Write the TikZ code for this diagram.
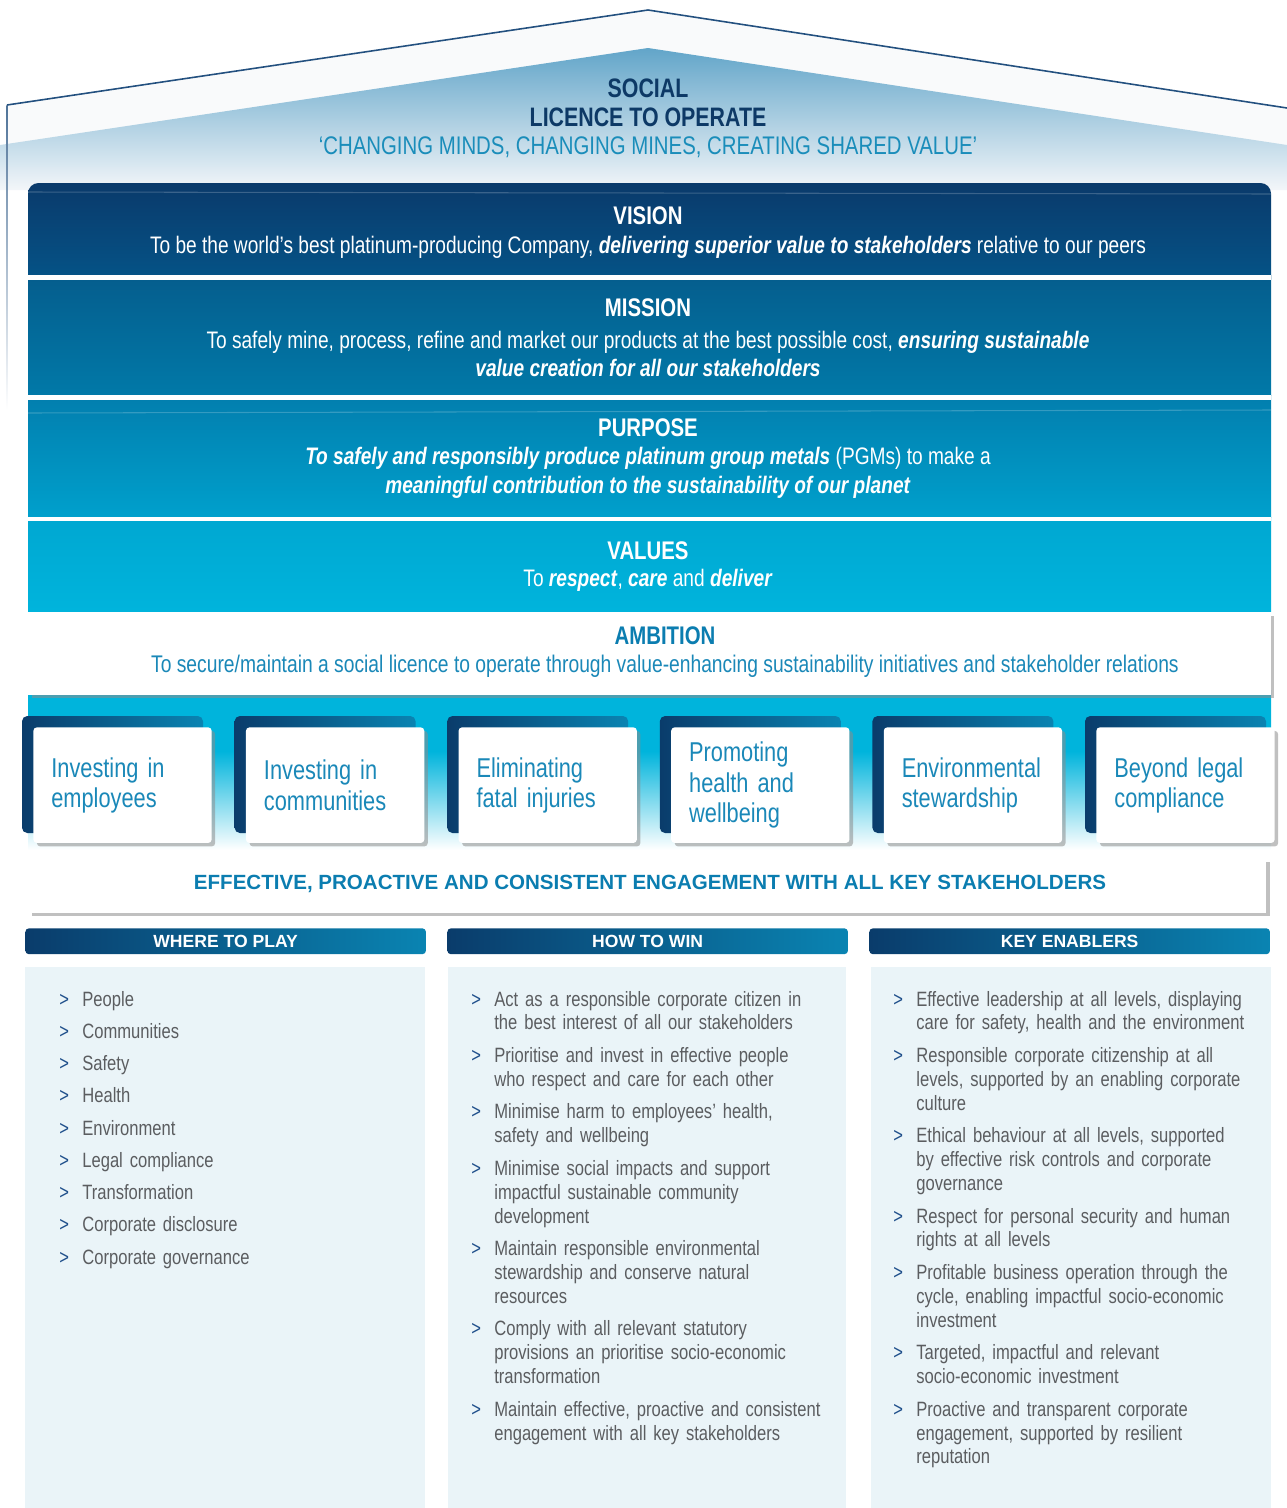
\documentclass[tikz,border=0pt]{standalone}
\usepackage{fontspec}
\setmainfont{Liberation Sans}[FakeStretch=0.8]
\newfontfamily\widefont{Liberation Sans}
\usetikzlibrary{positioning,shadows,calc}

\definecolor{roofline}{HTML}{23507F}
\definecolor{roofwhite}{HTML}{F9FAFB}
\definecolor{roofpale}{HTML}{F3F6F9}
\definecolor{roofblue}{HTML}{62A5C9}
\definecolor{roofnavy}{HTML}{0D3966}
\definecolor{roofteal}{HTML}{1A8DBA}
\definecolor{visiontop}{HTML}{0A3A6B}
\definecolor{visionbot}{HTML}{04568A}
\definecolor{missiontop}{HTML}{055D8D}
\definecolor{missionbot}{HTML}{0179A8}
\definecolor{purposetop}{HTML}{027EAE}
\definecolor{purposebot}{HTML}{00A0CC}
\definecolor{valuestop}{HTML}{00A7D1}
\definecolor{valuesbot}{HTML}{00B4DC}
\definecolor{pillarcyan}{HTML}{00B4DC}
\definecolor{tabnavy}{HTML}{0A3C6B}
\definecolor{tabteal}{HTML}{0A84B2}
\definecolor{cardtext}{HTML}{1A88B8}
\definecolor{ambblue}{HTML}{0B7DB0}
\definecolor{panelbg}{HTML}{EAF4F8}
\definecolor{listgray}{HTML}{5B5D60}
\definecolor{markerblue}{HTML}{1F4F8B}

\pgfdeclareverticalshading{pillarfade}{100bp}{color(0bp)=(white); color(28bp)=(white); color(57bp)=(pillarcyan); color(100bp)=(pillarcyan)}

\newcommand{\bul}{\makebox[0pt][r]{\textcolor{markerblue}{>}\hspace{7.5pt}}}
\newcommand{\bi}[1]{\textbf{\textit{#1}}}

\tikzset{
  roofhead/.style={text=roofnavy, font=\fontsize{15.2}{17}\selectfont\bfseries},
  rooftext/.style={text=roofteal, font=\fontsize{14.5}{17}\selectfont},
  bandtitle/.style={text=white, font=\fontsize{14.5}{16}\selectfont\bfseries},
  bandtext/.style={text=white, align=center, font=\fontsize{13.6}{16.4}\selectfont},
  whitebox/.style={fill=white, anchor=north west, inner sep=0pt,
    drop shadow={shadow xshift=2pt, shadow yshift=-2pt, fill=black!45, opacity=0.55}},
  ambhead/.style={text=ambblue, font=\fontsize{14.5}{16}\selectfont\bfseries},
  ambtext/.style={text=cardtext, font=\fontsize{13.7}{16}\selectfont},
  pillarback/.style={left color=tabnavy, right color=tabteal, rounded corners=3pt},
  pillarcard/.style={whitebox, rounded corners=2pt, minimum width=101.5pt, minimum height=65.8pt,
    text width=81pt, inner xsep=10.2pt, align=left, text=cardtext,
    font=\fontsize{15.5}{17.2}\selectfont},
  engtext/.style={text=ambblue, font=\widefont\bfseries\fontsize{11.7}{13}\selectfont},
  headbar/.style={anchor=north west, minimum width=228pt, minimum height=14.7pt, inner sep=0pt,
    left color=tabnavy, right color=tabteal, rounded corners=2pt, text=white,
    font=\widefont\bfseries\fontsize{10}{11}\selectfont},
  listitem/.style={inner sep=0pt, text width=196pt, align=left, text=listgray,
    font=\fontsize{11.8}{13.6}\selectfont, execute at begin node=\strut\bul,
    execute at end node=\strut},
}

\begin{document}
\begin{tikzpicture}[x=0.02cm, y=-0.02cm]
\useasboundingbox (0,0) rectangle (1287,1508);

% roof
\fill[roofwhite] (7,190) -- (7,105) -- (648,10) -- (1287,108) -- (1287,190) -- cycle;
\shade[top color=roofblue, bottom color=roofpale] (0,145) -- (648,48) -- (1287,145) -- (1287,190) -- (0,190) -- cycle;
\shade[top color=roofline!80, bottom color=white] (6.3,105) rectangle (7.7,410);
\draw[roofline, line width=0.9pt] (7,105) -- (648,10) -- (1287,108);
\node[roofhead] (social) at (648,88) {SOCIAL};
\node[roofhead] (licence) at (648,117) {LICENCE TO OPERATE};
\node[rooftext] (slogan) at (648,147) {‘CHANGING MINDS, CHANGING MINES, CREATING SHARED VALUE’};

% bands
\shade[top color=visiontop, bottom color=visionbot, rounded corners=6pt] (28,183) rectangle (1271,290);
\shade[top color=missiontop, bottom color=missionbot] (28,275) rectangle (1271,395);
\shade[top color=purposetop, bottom color=purposebot] (28,395) rectangle (1271,517);
\shade[top color=valuestop, bottom color=valuesbot] (28,517) rectangle (1271,611);
\fill[white] (28,275) rectangle (1271,280);
\fill[white] (28,395) rectangle (1271,400);
\fill[white] (28,517) rectangle (1271,521);
\draw[white, opacity=0.2, line width=0.6pt] (28,192) -- (1271,194);
\draw[white, opacity=0.2, line width=0.6pt] (28,413) -- (1271,410);

\node[bandtitle] (vision) at (648,216) {VISION};
\node[bandtext] (visiontxt) at (648,247) {To be the world’s best platinum-producing Company, \bi{delivering superior value to stakeholders} relative to our peers};
\node[bandtitle] (mission) at (648,308) {MISSION};
\node[bandtext] (missiontxt) at (648,354) {To safely mine, process, refine and market our products at the best possible cost, \bi{ensuring sustainable}\\\bi{value creation for all our stakeholders}};
\node[bandtitle] (purpose) at (648,428) {PURPOSE};
\node[bandtext] (purposetxt) at (648,473) {\bi{To safely and responsibly produce platinum group metals} (PGMs) to make a\\\bi{meaningful contribution to the sustainability of our planet}};
\node[bandtitle] (values) at (648,551) {VALUES};
\node[bandtext] (valuestxt) at (648,580) {To \bi{respect}, \bi{care} and \bi{deliver}};

% ambition
\shade[shading=pillarfade] (28,690) rectangle (1271,860);
\node[whitebox, minimum width=707pt, minimum height=47pt] (ambbox) at (28,612) {};
\node[ambhead] (ambition) at (665,636) {AMBITION};
\node[ambtext] (ambtxt) at (665,666) {To secure/maintain a social licence to operate through value-enhancing sustainability initiatives and stakeholder relations};

% pillars
\foreach \n/\txt [count=\i from 0] in {emp/{Investing in\\employees}, com/{Investing in\\communities}, fat/{Eliminating\\fatal injuries}, hea/{Promoting\\health and\\wellbeing}, env/{Environmental\\stewardship}, leg/{Beyond legal\\compliance}}{
  \shade[pillarback] ({22+212.6*\i},716) rectangle ++(181,117);
  \node[pillarcard] (\n) at ({33+212.6*\i},727) {\txt};
}

% engagement
\node[whitebox, minimum width=704.5pt, minimum height=31pt] (engbox) at (28,858) {};
\node[engtext] (engage) at (650,884) {EFFECTIVE, PROACTIVE AND CONSISTENT ENGAGEMENT WITH ALL KEY STAKEHOLDERS};

% columns
\node[headbar] (play) at (25,928) {WHERE TO PLAY};
\node[headbar] (win) at (447,928) {HOW TO WIN};
\node[headbar] (enab) at (869,928) {KEY ENABLERS};
\fill[panelbg] (25,967) rectangle (425,1508);
\fill[panelbg] (448,967) rectangle (846,1508);
\fill[panelbg] (871,967) rectangle (1271,1508);

\foreach \t [count=\i from 0] in {People, Communities, Safety, Health, Environment, Legal compliance, Transformation, Corporate disclosure, Corporate governance}
  \node[listitem, anchor=north west] (play\i) at (82,{989+32.25*\i}) {\t};

\node[listitem, anchor=north west] (win1) at (494,989) {Act as a responsible corporate citizen in\\the best interest of all our stakeholders};
\node[listitem, below=4.5pt of win1] (win2) {Prioritise and invest in effective people\\who respect and care for each other};
\node[listitem, below=4.5pt of win2] (win3) {Minimise harm to employees’ health,\\safety and wellbeing};
\node[listitem, below=4.5pt of win3] (win4) {Minimise social impacts and support\\impactful sustainable community\\development};
\node[listitem, below=4.5pt of win4] (win5) {Maintain responsible environmental\\stewardship and conserve natural\\resources};
\node[listitem, below=4.5pt of win5] (win6) {Comply with all relevant statutory\\provisions an prioritise socio-economic\\transformation};
\node[listitem, below=4.5pt of win6] (win7) {Maintain effective, proactive and consistent\\engagement with all key stakeholders};

\node[listitem, anchor=north west] (enab1) at (916,989) {Effective leadership at all levels, displaying\\care for safety, health and the environment};
\node[listitem, below=4.5pt of enab1] (enab2) {Responsible corporate citizenship at all\\levels, supported by an enabling corporate\\culture};
\node[listitem, below=4.5pt of enab2] (enab3) {Ethical behaviour at all levels, supported\\by effective risk controls and corporate\\governance};
\node[listitem, below=4.5pt of enab3] (enab4) {Respect for personal security and human\\rights at all levels};
\node[listitem, below=4.5pt of enab4] (enab5) {Profitable business operation through the\\cycle, enabling impactful socio-economic\\investment};
\node[listitem, below=4.5pt of enab5] (enab6) {Targeted, impactful and relevant\\socio-economic investment};
\node[listitem, below=4.5pt of enab6] (enab7) {Proactive and transparent corporate\\engagement, supported by resilient\\reputation};
\end{tikzpicture}
\end{document}
